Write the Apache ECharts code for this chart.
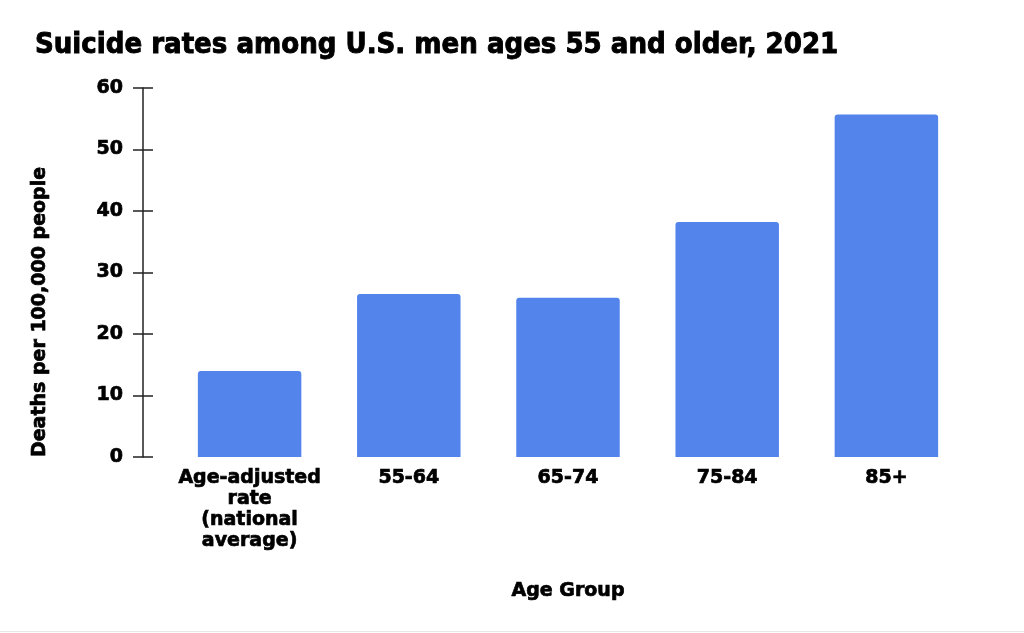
<!DOCTYPE html>
<html>
<head>
<meta charset="utf-8">
<script src="https://cdn.jsdelivr.net/npm/echarts@6/dist/echarts.min.js"></script>
<style>html,body{margin:0;padding:0;background:#fff;}#c{width:1024px;height:633px;}</style>
</head>
<body>
<div id="c"></div>
<script>
const categories = ["Age-adjusted\nrate\n(national\naverage)", "55-64", "65-74", "75-84", "85+"];
const rates = [14.0, 26.5, 25.9, 38.2, 55.7];
const yTicks = { min: 0, max: 60, interval: 10 };

const FONT = '"DejaVu Sans", sans-serif';
const heavy = { textBorderColor: '#000', textBorderWidth: 0.7 };
const chart = echarts.init(document.getElementById('c'), null, { renderer: 'canvas' });
chart.setOption({
  backgroundColor: '#fff',
  animation: false,
  title: {
    text: 'Suicide rates among U.S. men ages 55 and older, 2021',
    left: 30, top: 26,
    textStyle: Object.assign({ fontFamily: '"DejaVu Sans Condensed", "DejaVu Sans", sans-serif', fontWeight: 'bold', fontSize: 29, color: '#000' }, { textBorderColor: '#000', textBorderWidth: 0.9 })
  },
  grid: { left: 170, right: 58, top: 88, bottom: 176, containLabel: false },
  xAxis: {
    type: 'category',
    data: categories,
    axisLine: { show: false },
    axisTick: { show: false },
    axisLabel: Object.assign({ interval: 0, margin: 11, color: '#000', fontFamily: FONT, fontWeight: 'bold', fontSize: 19, lineHeight: 21 }, heavy),
    name: 'Age Group',
    nameLocation: 'middle',
    nameGap: 125,
    nameTextStyle: Object.assign({ color: '#000', fontFamily: FONT, fontWeight: 'bold', fontSize: 19 }, heavy)
  },
  yAxis: [
    {
      type: 'value', min: yTicks.min, max: yTicks.max, interval: yTicks.interval,
      position: 'left', offset: 27,
      axisLine: { show: true, lineStyle: { color: '#222', width: 1.5 } },
      axisTick: { show: true, length: 10, lineStyle: { color: '#222', width: 1.5 } },
      axisLabel: Object.assign({ margin: 20, color: '#000', fontFamily: FONT, fontWeight: 'bold', fontSize: 19 }, heavy),
      splitLine: { show: false }
    },
    {
      type: 'value', min: yTicks.min, max: yTicks.max, interval: yTicks.interval,
      position: 'left', offset: 27,
      axisLine: { show: false },
      axisTick: { show: true, inside: true, length: 10, lineStyle: { color: '#222', width: 1.5 } },
      axisLabel: { show: false },
      splitLine: { show: false }
    }
  ],
  series: [{
    type: 'bar',
    data: rates,
    barWidth: '65%',
    itemStyle: { color: '#5384EC', borderRadius: [3, 3, 0, 0] }
  }],
  graphic: [
    {
      type: 'text', x: 40, y: 312, rotation: Math.PI / 2,
      style: { text: 'Deaths per 100,000 people', fill: '#000', stroke: '#000', lineWidth: 0.7, font: 'bold 19px "DejaVu Sans", sans-serif', textAlign: 'center', textVerticalAlign: 'middle' }
    },
    {
      type: 'line', shape: { x1: 0, y1: 631.5, x2: 1024, y2: 631.5 }, style: { stroke: '#e8e8e8', lineWidth: 1 }
    }
  ]
});
</script>
</body>
</html>
